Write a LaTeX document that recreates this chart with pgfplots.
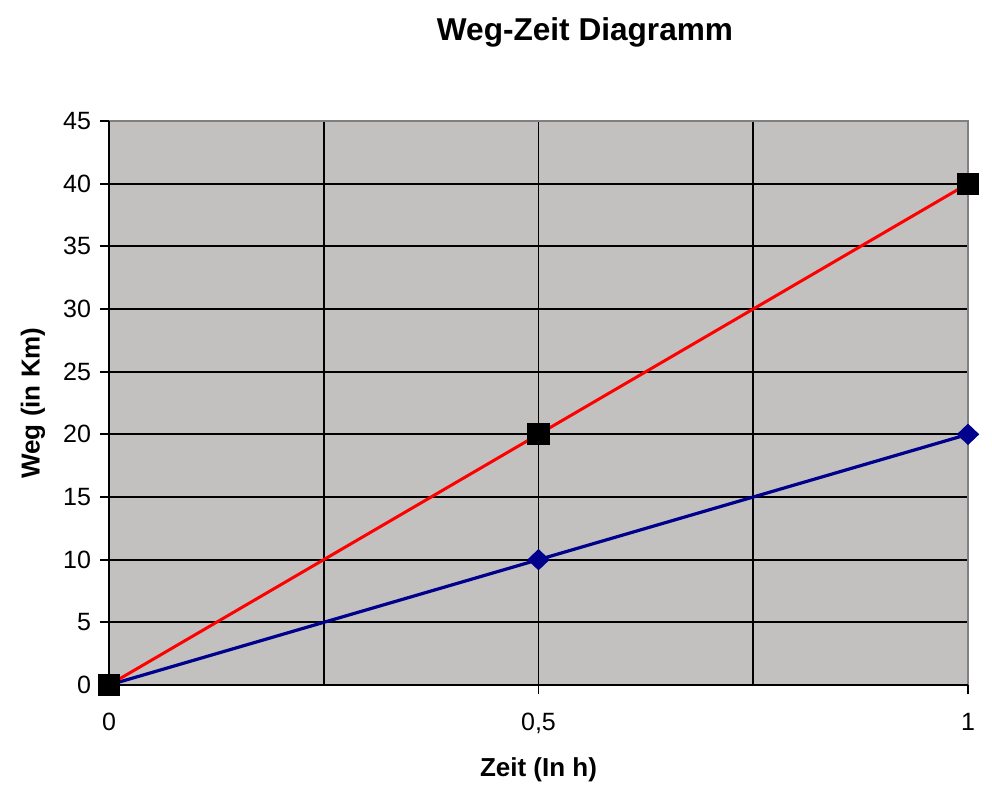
\documentclass[border=0pt]{standalone}
\usepackage{pgfplots}
\pgfplotsset{compat=1.18}
\usepackage{fontspec}
\setmainfont{Liberation Sans}
\definecolor{bgray}{RGB}{194,193,192}
\definecolor{fgray}{RGB}{128,128,128}
\definecolor{navyb}{RGB}{0,0,140}
\definecolor{lred}{RGB}{255,0,0}
\begin{document}
\begin{tikzpicture}
\useasboundingbox (-54.5pt,-57pt) rectangle (441.5pt,342.5pt);
\begin{axis}[
  at={(0,0)}, anchor=south west,
  scale only axis, width=429.5pt, height=282pt,
  xmin=0, xmax=1, ymin=0, ymax=45,
  xtick={0,0.5,1}, minor xtick={0.25,0.75},
  ytick={0,5,...,45},
  grid=both, major grid style={black, line width=0.9pt}, minor grid style={black, line width=0.9pt},
  axis background/.style={fill=bgray},
  axis line style={draw=none},
  tick align=outside, major tick length=4.5pt, minor tick length=0pt,
  tick style={black, line width=0.9pt},
  xtick pos=bottom, ytick pos=left,
  /pgf/number format/assume math mode=true,
  /pgf/number format/use comma,
  ticklabel style={font=\fontsize{12.5}{14}\selectfont},
  yticklabel style={xshift=-1pt},
  xticklabel style={yshift=-6pt},
  clip=false,
]
\draw[fgray, line width=0.7pt] (rel axis cs:0,1) -- (rel axis cs:1,1) -- (rel axis cs:1,0);
\draw[black, line width=0.9pt] (rel axis cs:0,1) -- (rel axis cs:0,0) -- (rel axis cs:1,0);
\addplot[navyb, line width=1.6pt, mark=diamond*, mark size=5pt, mark options={fill=navyb, draw=navyb, line width=0.5pt, xscale=1.4}] coordinates {(0,0) (0.5,10) (1,20)};
\addplot[lred, line width=1.5pt, mark=square*, mark size=5.3pt, mark options={fill=black, draw=black, line width=0.5pt}] coordinates {(0,0) (0.5,20) (1,40)};
\end{axis}
\node[font=\fontsize{15.8}{18}\selectfont\bfseries] at (238pt,326.5pt) {Weg-Zeit Diagramm};
\node[font=\fontsize{13}{16}\selectfont\bfseries] at (214.75pt,-42.5pt) {Zeit (In h)};
\node[font=\fontsize{13}{16}\selectfont\bfseries, rotate=90] at (-38pt,141pt) {Weg (in Km)};
\end{tikzpicture}
\end{document}
